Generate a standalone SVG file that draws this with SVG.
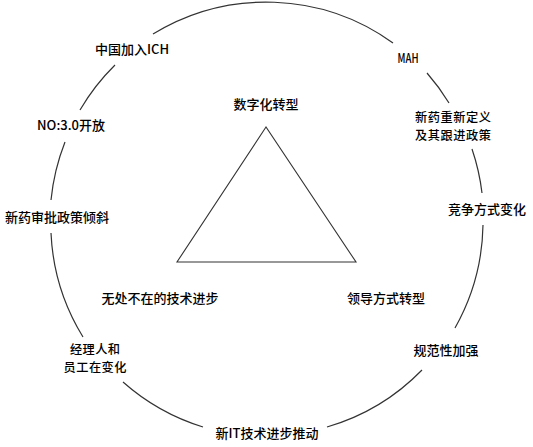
<svg xmlns="http://www.w3.org/2000/svg" width="533" height="447" viewBox="0 0 533 447">
<style>
  .lbl { font-family: "Noto Sans CJK SC", "Liberation Serif", sans-serif; font-size: 13px; font-weight: 500; fill: #000; text-anchor: middle; }
  .two { font-size: 12.2px; }
  .arc { fill: none; stroke: #333; stroke-width: 1.2; }
  .tri { fill: none; stroke: #333; stroke-width: 1.1; }
</style>
<rect width="533" height="447" fill="#fff"/>
<g id="connectors">
  <path class="arc" d="M153,34 A217,217 0 0 1 393,43"/>
  <path class="arc" d="M427,73 A217,217 0 0 1 449,103"/>
  <path class="arc" d="M472,149 A217,217 0 0 1 482,193"/>
  <path class="arc" d="M483,225 A217,217 0 0 1 455,328"/>
  <path class="arc" d="M422,370 A217,217 0 0 1 327,427"/>
  <path class="arc" d="M203,427 A217,217 0 0 1 123,382"/>
  <path class="arc" d="M83,337 A217,217 0 0 1 51,233"/>
  <path class="arc" d="M51,200 A217,217 0 0 1 65,142"/>
  <path class="arc" d="M80,110 A217,217 0 0 1 115,65"/>
</g>
<g id="triangle">
  <polygon class="tri" points="266,127 177,262 356,262"/>
</g>
<g id="node-ich"><text class="lbl" x="132" y="54">中国加入ICH</text></g>
<g id="node-mah"><text class="lbl" x="408" y="63" font-size="12" textLength="21" lengthAdjust="spacingAndGlyphs">MAH</text></g>
<g id="node-newdrug"><text class="lbl two" x="453" y="122" textLength="76" lengthAdjust="spacing">新药重新定义</text><text class="lbl two" x="453" y="139.8" textLength="76" lengthAdjust="spacing">及其跟进政策</text></g>
<g id="node-compete"><text class="lbl" x="487" y="214">竞争方式变化</text></g>
<g id="node-norm"><text class="lbl" x="446" y="355">规范性加强</text></g>
<g id="node-it"><text class="lbl" x="267" y="438">新IT技术进步推动</text></g>
<g id="node-staff"><text class="lbl two" x="95" y="354" textLength="50" lengthAdjust="spacing">经理人和</text><text class="lbl two" x="95" y="371.8" textLength="63" lengthAdjust="spacing">员工在变化</text></g>
<g id="node-approval"><text class="lbl" x="57" y="222">新药审批政策倾斜</text></g>
<g id="node-no"><text class="lbl" x="71" y="130">NO:3.0开放</text></g>
<g id="node-digital"><text class="lbl" x="266" y="109">数字化转型</text></g>
<g id="node-tech"><text class="lbl" x="160" y="303">无处不在的技术进步</text></g>
<g id="node-lead"><text class="lbl" x="386" y="303">领导方式转型</text></g>
</svg>
